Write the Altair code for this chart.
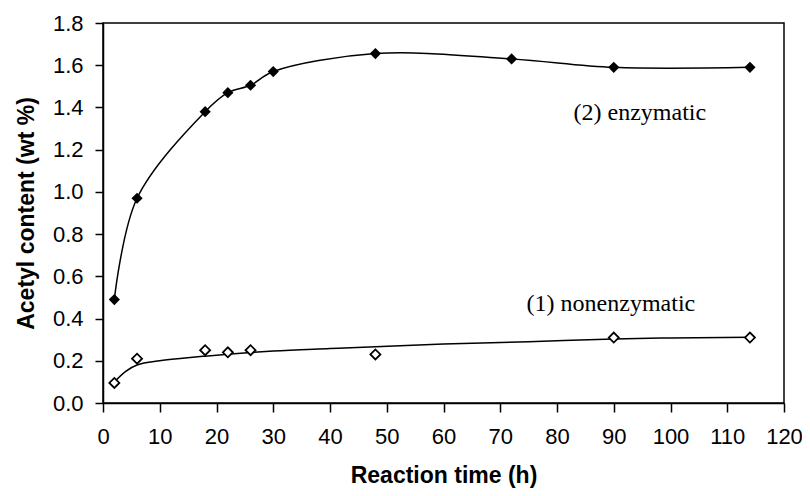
import altair as alt
import pandas as pd

# Measured points
enz_x = [2, 6, 18, 22, 26, 30, 48, 72, 90, 114]
enz_y = [0.49, 0.97, 1.38, 1.47, 1.505, 1.57, 1.655, 1.63, 1.59, 1.59]

non_x = [2, 6, 18, 22, 26, 48, 90, 114]
non_y = [0.095, 0.21, 0.25, 0.24, 0.25, 0.23, 0.31, 0.31]

# Trend curve of the nonenzymatic series
non_fit_x = [2, 4, 6, 10, 14, 18, 22, 26, 30, 40, 48, 60, 75, 90, 100, 114]
non_fit_y = [0.10, 0.15, 0.18, 0.20, 0.212, 0.222, 0.231, 0.239, 0.246, 0.258, 0.267, 0.279, 0.29, 0.303, 0.308, 0.312]

label_text = ["(2) enzymatic", "(1) nonenzymatic"]
label_x = [94.6, 89.5]
label_y = [1.372, 0.47]

enz = pd.DataFrame({"t": enz_x, "v": enz_y})
non = pd.DataFrame({"t": non_x, "v": non_y})
fit = pd.DataFrame({"t": non_fit_x, "v": non_fit_y})
labels = pd.DataFrame({"t": label_x, "v": label_y, "txt": label_text})

xscale = alt.Scale(domain=[0, 120], nice=False, zero=True)
yscale = alt.Scale(domain=[0, 1.8], nice=False)

xaxis = alt.Axis(values=list(range(0, 121, 10)), title="Reaction time (h)", grid=False,
                 labelFontSize=22, labelFont="Liberation Sans", labelColor="black",
                 titleFontSize=23, titleFont="Liberation Sans", titleFontWeight="bold",
                 titleColor="black", domainColor="black", tickColor="black",
                 domainWidth=1.5, tickWidth=1.5,
                 tickSize=9, labelPadding=14, titlePadding=17, labelFlush=False)
yaxis = alt.Axis(values=[round(i * 0.2, 1) for i in range(10)], format=".1f",
                 title="Acetyl content (wt %)", grid=False,
                 labelFontSize=22, labelFont="Liberation Sans", labelColor="black",
                 titleFontSize=23, titleFont="Liberation Sans", titleFontWeight="bold",
                 titleColor="black", domainColor="black", tickColor="black",
                 domainWidth=1.5, tickWidth=1.5,
                 tickSize=8, labelPadding=12, titlePadding=14, labelFlush=False)

x = alt.X("t:Q", scale=xscale, axis=xaxis)
y = alt.Y("v:Q", scale=yscale, axis=yaxis)

enz_line = alt.Chart(enz).mark_line(color="black", strokeWidth=1.5, interpolate="catmull-rom").encode(x=x, y=y)
enz_pts = alt.Chart(enz).mark_point(shape="diamond", filled=True, color="black", size=125, opacity=1).encode(x=x, y=y)
fit_line = alt.Chart(fit).mark_line(color="black", strokeWidth=1.5, interpolate="monotone").encode(x=x, y=y)
non_pts = alt.Chart(non).mark_point(shape="diamond", filled=True, fill="white", stroke="black",
                                    strokeWidth=1.8, size=100, opacity=1).encode(x=x, y=y)
txt = alt.Chart(labels).mark_text(font="Liberation Serif", fontSize=24, color="black",
                                  align="center", baseline="middle").encode(x=x, y=y, text="txt:N")

chart = alt.layer(enz_line, fit_line, enz_pts, non_pts, txt).properties(
    width=681, height=380,
    autosize=alt.AutoSizeParams(type="none"),
    padding={"left": 95, "top": 15, "right": 18, "bottom": 85},
    background="white",
).configure_view(stroke="black", strokeWidth=1.5)

chart.save("out.html", embed_options={"renderer": "svg", "actions": False})
